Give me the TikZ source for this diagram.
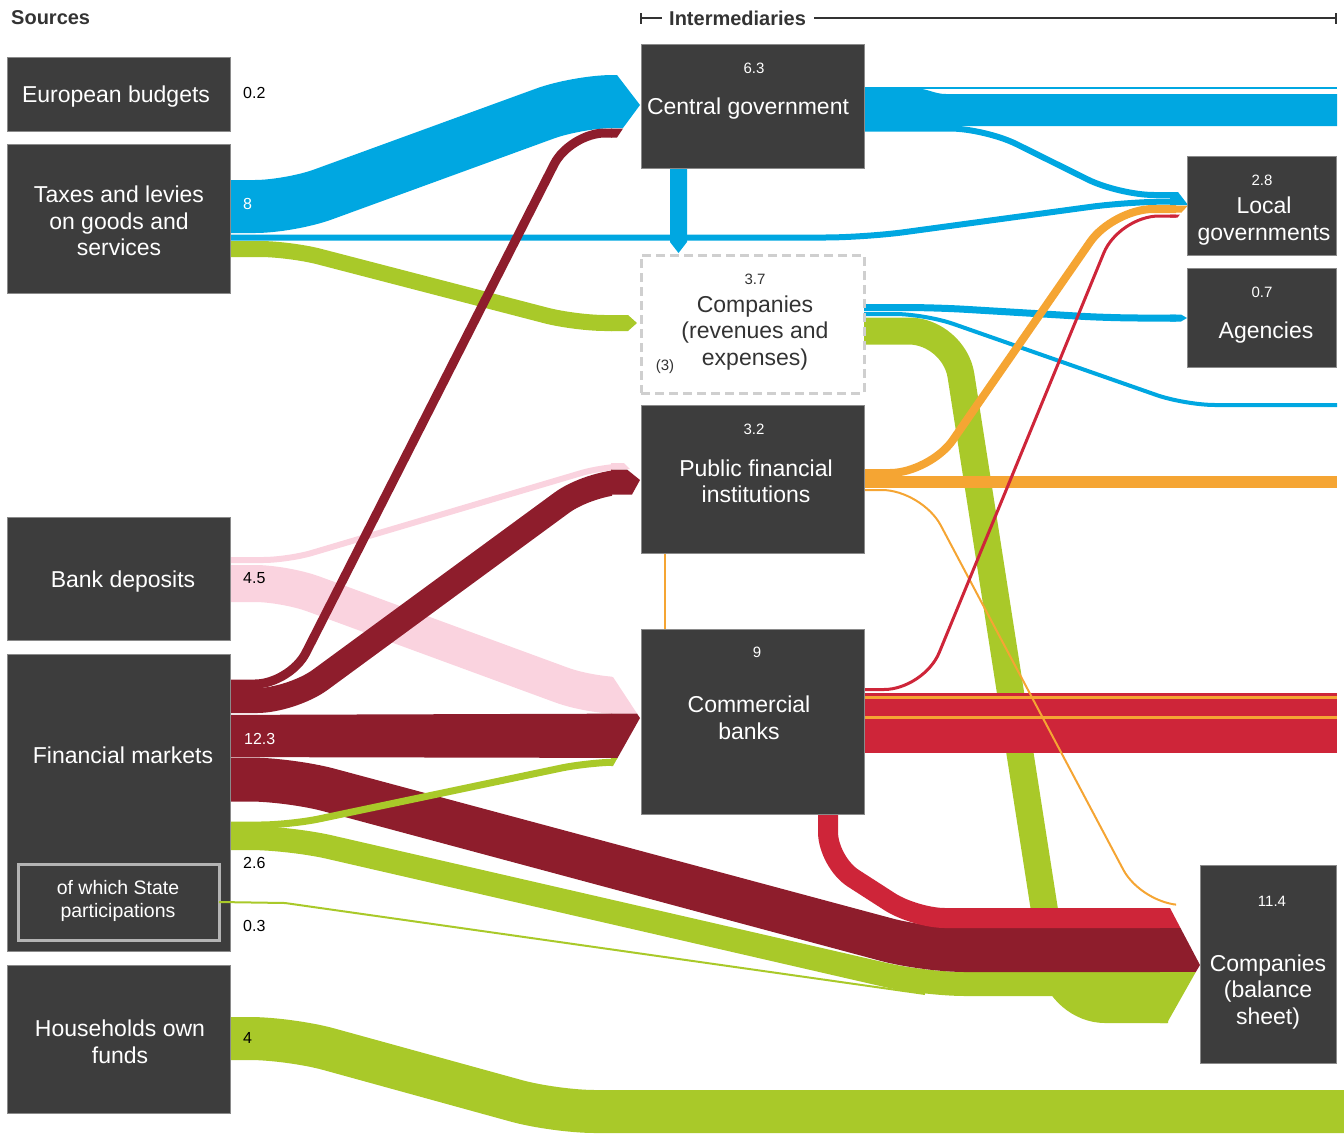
\documentclass[tikz,border=0pt]{standalone}
\usepackage{fontspec}
\setmainfont{Liberation Sans}
\definecolor{cblue}{HTML}{00A7E1}
\definecolor{cgreen}{HTML}{A9C929}
\definecolor{cdred}{HTML}{8E1D2C}
\definecolor{cred}{HTML}{CE2539}
\definecolor{corange}{HTML}{F5A533}
\definecolor{cpink}{HTML}{FAD3DF}
\definecolor{cbox}{HTML}{3D3D3D}
\definecolor{boxedge}{HTML}{8A8A8A}
\definecolor{dashgray}{HTML}{CFCFCF}
\definecolor{stpgray}{HTML}{B4B4B4}
\definecolor{hdrtext}{HTML}{333333}
\begin{document}
\begin{tikzpicture}[x=1pt,y=-1pt,
  flow/.style={line width=#1pt, line cap=butt, line join=round},
  box/.style={rectangle, fill=cbox, draw=boxedge, line width=0.8pt, inner sep=0pt, outer sep=0pt, anchor=north west},
  lbl/.style={text=white, font=\fontsize{23}{26.5}\selectfont, align=center, inner sep=0pt},
  num/.style={text=white, font=\fontsize{15}{18}\selectfont, inner sep=0pt},
  val/.style={text=black, font=\fontsize{16}{19}\selectfont, inner sep=0pt, anchor=west},
  hdr/.style={text=hdrtext, font=\bfseries\fontsize{20}{24}\selectfont, inner sep=0pt, anchor=west},
  hdrline/.style={draw=hdrtext, line width=1.3pt}]

\useasboundingbox (0,0) rectangle (1344,1133);
\clip (0,0) rectangle (1344,1133);

% ---------- flows into Companies (balance sheet) ----------
\begin{scope}
\clip (0,0) rectangle (1168,1133);
\draw[flow=27, cgreen, rounded corners=45pt] (850,331) -- (954,331) -- (1060,1009.5) -- (1200,1009.5);
\draw[flow=24, cgreen, rounded corners=40pt] (200,838) -- (290,838) -- (925,984) -- (1200,984);
\draw[flow=44, cdred, rounded corners=40pt] (200,779.5) -- (290,779.5) -- (925,950) -- (1200,950);
\draw[flow=20, cred, rounded corners=30pt] (828,800) -- (828,862) -- (915,918) -- (1200,918);
\end{scope}

% households own funds
\draw[flow=43, cgreen, rounded corners=40pt] (200,1038.5) -- (290,1038.5) -- (555,1111.5) -- (1360,1111.5);

% thin blue taxes -> local governments
\begin{scope}
\clip (0,0) rectangle (1176,1133);
\draw[flow=6, cblue, rounded corners=40pt] (200,237.5) -- (865,237.5) -- (1130,201.5) -- (1200,201.5);
\end{scope}

% ---------- flows into intermediaries ----------
\begin{scope}
\clip (0,0) rectangle (612,1133);
\draw[flow=37, cpink, rounded corners=30pt] (200,583.5) -- (285,583.5) -- (590,695.5) -- (660,695.5);
\draw[flow=6, cpink, rounded corners=25pt] (200,560) -- (288,560) -- (605,466) -- (660,466);
\draw[flow=16, cgreen, rounded corners=30pt] (200,249) -- (290,249) -- (575,323) -- (660,323);
\draw[flow=53, cblue, rounded corners=35pt] (200,206.5) -- (290,206.5) -- (578,101.5) -- (660,101.5);
\draw[flow=9, cdred, rounded corners=35pt] (200,684) -- (290,684) -- (570,133) -- (660,133);
\draw[flow=25, cdred, rounded corners=35pt] (200,700.5) -- (292,700.5) -- (590,482) -- (660,482);
\fill[cdred] (200,715) -- (660,713.5) -- (660,758) -- (200,757) -- cycle;
\draw[flow=7, cgreen, rounded corners=30pt] (200,825) -- (290,825) -- (590,762) -- (660,762);
\end{scope}

% arrow heads on the left of the intermediaries
\fill[cblue] (611,75) -- (617,75) -- (640,105) -- (623,128) -- (611,128) -- cycle;
\fill[cdred] (611,128.5) -- (623,128.5) -- (617,137.5) -- (611,137.5) -- cycle;
\fill[cgreen] (611,315) -- (628,315) -- (637,323) -- (628,331) -- (611,331) -- cycle;
\fill[cpink] (611,463) -- (624,463) -- (630,469) -- (611,469) -- cycle;
\fill[cdred] (611,469.5) -- (627,469.5) -- (640,480) -- (632,494.5) -- (611,494.5) -- cycle;
\fill[cpink] (611,677) -- (613,677) -- (637,713.5) -- (611,713.5) -- cycle;
\fill[cdred] (611,713.5) -- (637,713.5) -- (640,718) -- (617.5,758) -- (611,758) -- cycle;
\fill[cgreen] (611,758) -- (617.5,758) -- (613,766) -- (611,766) -- cycle;

% ---------- blue outflows ----------
\fill[cblue] (850,88.5) -- (916,88.5) .. controls (928,88.5) and (934,94) .. (946,94) -- (1337,94) -- (1337,126) -- (850,126) -- cycle;
\draw[flow=2, cblue] (850,87.5) -- (1337,87.5);
\fill[cblue] (670,165) -- (687,165) -- (687,242) -- (678.5,253) -- (670,242) -- cycle;
\draw[flow=4, cblue, rounded corners=30pt] (850,314) -- (925,314) -- (1185,405) -- (1337,405);
\begin{scope}
\clip (0,0) rectangle (1176,1133);
\draw[flow=6, cblue, rounded corners=35pt] (850,128.5) -- (985,128.5) -- (1119,195) -- (1200,195);
\draw[flow=7, cblue, rounded corners=30pt] (850,307.5) -- (935,307.5) -- (1110,318) -- (1200,318);
\end{scope}

% ---------- red / orange outflows ----------
\draw[flow=12, corange] (850,482) -- (1337,482);
\fill[cred] (850,693) rectangle (1337,753);
\draw[flow=3, corange] (850,697.5) -- (1337,697.5);
\draw[flow=3, corange] (850,717.5) -- (1337,717.5);
\begin{scope}
\clip (0,0) rectangle (1176,1133);
\draw[flow=8, corange, rounded corners=40pt] (850,473) -- (930,473) -- (1113,209) -- (1200,209);
\draw[flow=2, corange, rounded corners=40pt] (850,490) -- (922,490) -- (1142,905) -- (1200,905);
\draw[flow=3, cred, rounded corners=40pt] (850,689.5) -- (924,689.5) -- (1119,216) -- (1200,216);
\end{scope}
\draw[flow=2, corange] (665,550) -- (665,632);

% arrow heads on the right
\fill[cblue] (1170,192) -- (1178,192) -- (1188,205) -- (1170,205) -- cycle;
\fill[corange] (1170,205.5) -- (1188,205.5) -- (1181.5,212.5) -- (1170,212.5) -- cycle;
\fill[cred] (1170,214.5) -- (1180,214.5) -- (1177.5,217.5) -- (1170,217.5) -- cycle;
\fill[cblue] (1170,314.5) -- (1181,314.5) -- (1187,318) -- (1181,321.5) -- (1170,321.5) -- cycle;
\fill[cred] (1160,908) -- (1170,908) -- (1180.5,928) -- (1160,928) -- cycle;
\fill[cdred] (1160,928) -- (1180.5,928) -- (1200,965) -- (1195.8,972) -- (1160,972) -- cycle;
\fill[cgreen] (1160,972) -- (1195.8,972) -- (1167,1023) -- (1160,1023) -- cycle;

% ---------- boxes ----------
\node[box, minimum width=223pt, minimum height=74pt] (eub) at (7,57) {};
\node[box, minimum width=223pt, minimum height=149pt] (tax) at (7,144) {};
\node[box, minimum width=223pt, minimum height=123pt] (bdep) at (7,517) {};
\node[box, minimum width=223pt, minimum height=297pt] (fmkt) at (7,654) {};
\node[box, draw=stpgray, line width=3pt, minimum width=201pt, minimum height=76pt] (stp) at (18,864) {};
\node[box, minimum width=223pt, minimum height=148pt] (hh) at (7,965) {};
\node[box, minimum width=223pt, minimum height=124pt] (cg) at (641,44) {};
\node[box, fill=white, draw=dashgray, line width=3pt, dash pattern=on 9pt off 5pt, minimum width=223pt, minimum height=138pt] (comp) at (641,255) {};
\node[box, minimum width=223pt, minimum height=148pt] (pfi) at (641,405) {};
\node[box, minimum width=223pt, minimum height=185pt] (cb) at (641,629) {};
\node[box, minimum width=149pt, minimum height=99pt] (lg) at (1187,156) {};
\node[box, minimum width=149pt, minimum height=99pt] (ag) at (1187,268) {};
\node[box, minimum width=136pt, minimum height=198pt] (bs) at (1200,865) {};

% state participations thin flow
\draw[flow=2, cgreen] (stp.east) -- ++(66,1) -- (925,994);

% ---------- texts ----------
\node[hdr] (src) at (11,18) {Sources};
\node[hdr] (inter) at (669,18) {Intermediaries};
\coordinate (tickL) at (641,18);
\coordinate (tickR) at (1336,18);
\draw[hdrline] (tickL) -- ([xshift=-7pt]inter.west);
\draw[hdrline] ([xshift=8pt]inter.east) -- (tickR);
\draw[hdrline] ([yshift=-5.5pt]tickL) -- ([yshift=5.5pt]tickL);
\draw[hdrline] ([yshift=-5.5pt]tickR) -- ([yshift=5.5pt]tickR);

\node[lbl] (eubT) at (116,96.5) {European budgets};
\node[lbl] (taxT) at (119,221) {Taxes and levies\\on goods and\\services};
\node[lbl] (bdepT) at (123,581.5) {Bank deposits};
\node[lbl] (fmktT) at (123,755.5) {Financial markets};
\node[lbl, font=\fontsize{19.5}{23}\selectfont] (stpT) at (118,901) {of which State\\participations};
\node[lbl] (hhT) at (120,1042) {Households own\\funds};

\node[lbl] (cgT) at (748,108.5) {Central government};
\node[num] (cgN) at (754,68) {6.3};
\node[lbl, text=hdrtext] (compT) at (755,333) {Companies\\(revenues and\\expenses)};
\node[num, text=hdrtext] (compN) at (755,279) {3.7};
\node[num, text=hdrtext] (compR) at (665,367) {(3)};
\node[lbl] (pfiT) at (756,481.5) {Public financial\\institutions};
\node[num] (pfiN) at (754,429) {3.2};
\node[lbl] (cbT) at (749,718) {Commercial\\banks};
\node[num] (cbN) at (757,652) {9};

\node[lbl] (lgT) at (1264,221) {Local\\governments};
\node[num] (lgN) at (1262,180) {2.8};
\node[lbl] (agT) at (1266,332.5) {Agencies};
\node[num] (agN) at (1262,292) {0.7};
\node[lbl] (bsT) at (1268,992) {Companies\\(balance\\sheet)};
\node[num] (bsN) at (1272,901) {11.4};

\node[val] (v1) at (243,93) {0.2};
\node[val, text=white] (v2) at (243,204) {8};
\node[val] (v3) at (243,578) {4.5};
\node[val, text=white] (v4) at (244,739) {12.3};
\node[val] (v5) at (243,863) {2.6};
\node[val] (v6) at (243,926) {0.3};
\node[val] (v7) at (243,1038) {4};
\end{tikzpicture}
\end{document}
